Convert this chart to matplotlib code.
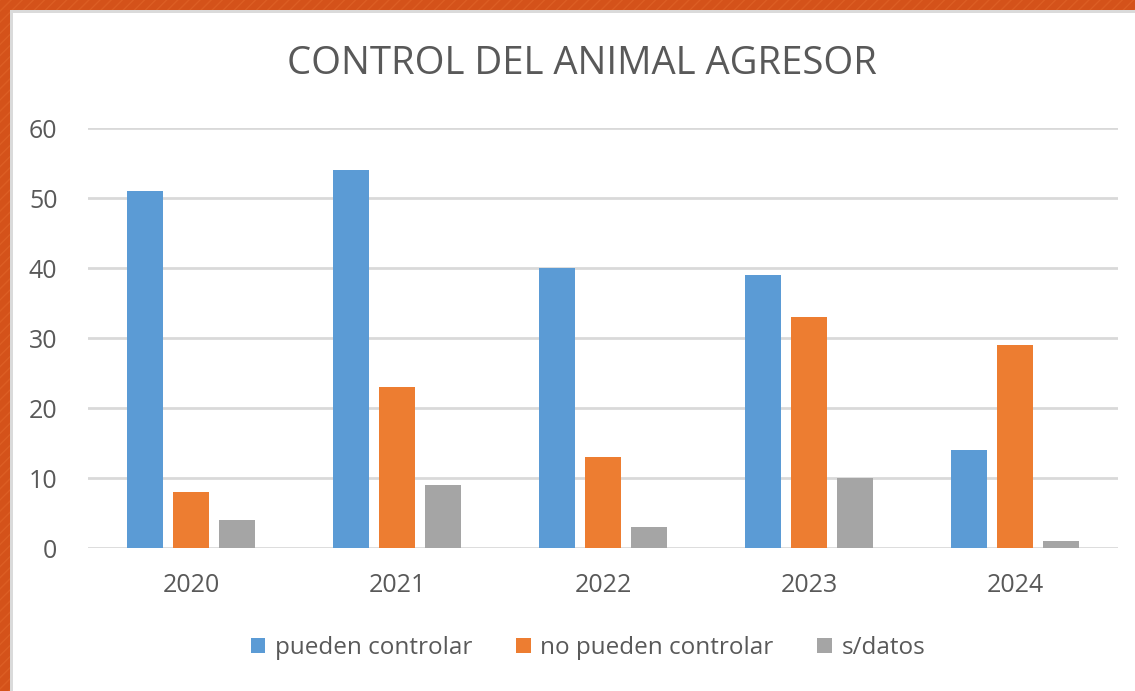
import matplotlib
matplotlib.use("Agg")
import matplotlib.pyplot as plt
import numpy as np
from matplotlib.patches import Rectangle

years = ["2020", "2021", "2022", "2023", "2024"]
pueden = [51, 54, 40, 39, 14]
no_pueden = [8, 23, 13, 33, 29]
sin_datos = [4, 9, 3, 10, 1]
series_names = ["pueden controlar", "no pueden controlar", "s/datos"]
colors = ["#5b9bd5", "#ed7d31", "#a5a5a5"]

plt.rcParams['font.family'] = ['Open Sans', 'DejaVu Sans']
txt = "#595959"

fig = plt.figure(figsize=(11.35, 6.91), dpi=100)
fig.patch.set_facecolor("#d4521a")

# orange striped frame + white card
W, H = 1135, 691
frame = Rectangle((0, 0), 1, 1, transform=fig.transFigure, facecolor="#d4521a",
                  edgecolor="#dc5e24", hatch="///", linewidth=0, zorder=-3)
fig.patches.append(frame)
shadow = Rectangle((10 / W, 0), 1, (H - 10) / H, transform=fig.transFigure,
                   facecolor="#dadada", edgecolor="none", zorder=-2)
fig.patches.append(shadow)
card = Rectangle((13 / W, 0), 1, (H - 13) / H, transform=fig.transFigure,
                 facecolor="white", edgecolor="none", zorder=-1)
fig.patches.append(card)

ax = fig.add_axes([88 / W, (H - 548) / H, (1118 - 88) / W, 420 / H])
ax.set_facecolor("none")

x = np.arange(len(years))
bw = 0.175
step = 0.224
for i, vals in enumerate([pueden, no_pueden, sin_datos]):
    ax.bar(x + (i - 1) * step, vals, width=bw, color=colors[i],
           label=series_names[i], zorder=3)

ax.set_xlim(-0.5, len(years) - 0.5)
ax.set_ylim(0, 60)
ax.set_yticks(range(0, 61, 10))
ax.set_xticks(x)
ax.set_xticklabels(years)
ax.yaxis.grid(True, color="#d9d9d9", linewidth=2, zorder=0)
ax.set_axisbelow(True)
for s in ax.spines.values():
    s.set_visible(False)
ax.tick_params(axis="both", length=0, labelsize=18, colors=txt)
ax.tick_params(axis="y", pad=22)
ax.tick_params(axis="x", pad=18)

fig.text(582 / W, (H - 64) / H, "CONTROL DEL ANIMAL AGRESOR", ha="center",
         va="center", fontsize=27.5, color=txt)

fig.legend(loc="center", bbox_to_anchor=(588 / W, (H - 648) / H), ncol=3,
           frameon=False, fontsize=17.5, labelcolor=txt, handlelength=0.6,
           handleheight=0.6, handletextpad=0.4, columnspacing=1.8)

fig.savefig("out.png", dpi=100)
